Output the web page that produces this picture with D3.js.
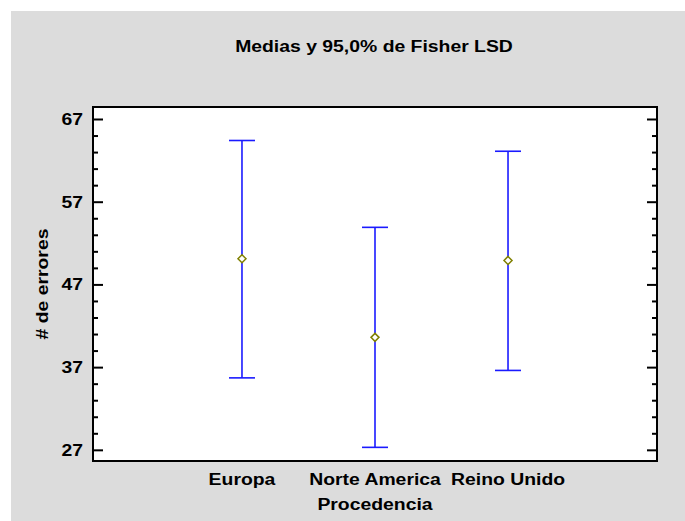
<!DOCTYPE html>
<html><head><meta charset="utf-8">
<script src="https://cdn.jsdelivr.net/npm/d3@7/dist/d3.min.js"></script>
<style>
body{margin:0;background:#fff;}
svg{display:block;}
text{font-family:"Liberation Sans",Arial,sans-serif;font-weight:bold;fill:#000;}
</style></head><body>
<script>
const categories = ["Europa", "Norte America", "Reino Unido"];
const means = [50.1, 40.6, 49.9];
const lower = [35.7, 27.3, 36.6];
const upper = [64.4, 53.9, 63.1];
const yTicks = [27, 37, 47, 57, 67];
const title = "Medias y 95,0% de Fisher LSD";
const xTitle = "Procedencia";
const yTitle = "# de errores";

const W = 685, H = 521;
const plot = {l: 93, t: 107, r: 657, b: 461};
const FS = 17, SX = 1.14;

const svg = d3.select("body").append("svg").attr("width", W).attr("height", H);
svg.append("rect").attr("x", 11).attr("y", 11).attr("width", W - 11).attr("height", H - 11).attr("fill", "#dcdcdc");
svg.append("rect").attr("x", plot.l).attr("y", plot.t).attr("width", plot.r - plot.l).attr("height", plot.b - plot.t).attr("fill", "#fff");

const x = d3.scaleLinear().domain([-0.12, 4.12]).range([plot.l, plot.r]);
const y = d3.scaleLinear().domain([25.65, 68.45]).range([plot.b, plot.t]);

function label(px, py, txt, anchor, rot) {
  return svg.append("text")
    .attr("transform", `translate(${px},${py})${rot ? " rotate(-90)" : ""} scale(${SX},1)`)
    .attr("text-anchor", anchor).attr("font-size", FS).text(txt);
}

// ticks
const minor = d3.range(27, 68, 2).filter(v => (v - 27) % 10 !== 0);
const yAxisL = d3.axisRight(y).tickValues(yTicks).tickSize(10).tickFormat("");
const yAxisLm = d3.axisRight(y).tickValues(minor).tickSize(5).tickFormat("");
const yAxisR = d3.axisLeft(y).tickValues(yTicks).tickSize(10).tickFormat("");
const yAxisRm = d3.axisLeft(y).tickValues(minor).tickSize(5).tickFormat("");
[[yAxisL, plot.l], [yAxisLm, plot.l], [yAxisR, plot.r], [yAxisRm, plot.r]].forEach(([ax, px]) => {
  const g = svg.append("g").attr("transform", `translate(${px},0)`).call(ax);
  g.select(".domain").remove();
  g.selectAll("line").attr("stroke", "#000").attr("stroke-width", 2);
});

// y labels
yTicks.forEach(v => label(83, y(v) + 6, String(v), "end"));

// frame
svg.append("rect").attr("x", plot.l).attr("y", plot.t).attr("width", plot.r - plot.l).attr("height", plot.b - plot.t)
  .attr("fill", "none").attr("stroke", "#000").attr("stroke-width", 2);

// error bars
const data = categories.map((c, i) => ({c, i: i + 1, m: means[i], lo: lower[i], hi: upper[i]}));
const eb = svg.append("g").attr("stroke", "#1a1aff").attr("stroke-width", 1.6);
eb.selectAll(".v").data(data).join("line").attr("x1", d => x(d.i)).attr("x2", d => x(d.i)).attr("y1", d => y(d.hi)).attr("y2", d => y(d.lo));
eb.selectAll(".t").data(data).join("line").attr("x1", d => x(d.i) - 13).attr("x2", d => x(d.i) + 13).attr("y1", d => y(d.hi)).attr("y2", d => y(d.hi));
eb.selectAll(".b").data(data).join("line").attr("x1", d => x(d.i) - 13).attr("x2", d => x(d.i) + 13).attr("y1", d => y(d.lo)).attr("y2", d => y(d.lo));

svg.append("g").selectAll("path").data(data).join("path")
  .attr("d", d => { const cx = x(d.i), cy = y(d.m), s = 4; return `M${cx},${cy - s}L${cx + s},${cy}L${cx},${cy + s}L${cx - s},${cy}Z`; })
  .attr("fill", "#fff").attr("stroke", "#808000").attr("stroke-width", 1.5);

// x labels
data.forEach(d => label(x(d.i), 485, d.c, "middle"));
label(x(2), 510, xTitle, "middle");
label(48, 284, yTitle, "middle", true);
label(374, 52, title, "middle");
</script>
</body></html>
